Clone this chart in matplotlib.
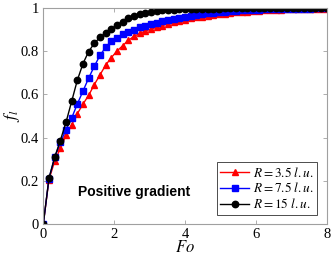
import matplotlib
matplotlib.use("Agg")
import matplotlib.pyplot as plt

plt.rcParams['mathtext.fontset'] = 'stix'
plt.rcParams['font.family'] = ['Liberation Serif', 'DejaVu Serif']

# Fourier number (x axis)
fo = [0.00, 0.16, 0.32, 0.48, 0.64, 0.80, 0.96, 1.12, 1.28, 1.44,
      1.60, 1.76, 1.92, 2.08, 2.24, 2.40, 2.56, 2.72, 2.88, 3.04,
      3.20, 3.36, 3.52, 3.68, 3.84, 4.00, 4.16, 4.32, 4.48, 4.64,
      4.80, 4.96, 5.12, 5.28, 5.44, 5.60, 5.76, 5.92, 6.08, 6.24,
      6.40, 6.56, 6.72, 6.88, 7.04, 7.20, 7.36, 7.52, 7.68, 7.84, 8.00]

# liquid fraction for each radius
fl_r35 = [0.000, 0.205, 0.290, 0.350, 0.410, 0.460, 0.510, 0.555, 0.595, 0.645,
          0.690, 0.735, 0.770, 0.800, 0.825, 0.850, 0.868, 0.882, 0.893, 0.902,
          0.910, 0.918, 0.926, 0.933, 0.940, 0.946, 0.951, 0.956, 0.960, 0.964,
          0.968, 0.971, 0.974, 0.977, 0.979, 0.981, 0.983, 0.985, 0.987, 0.988,
          0.990, 0.991, 0.992, 0.993, 0.994, 0.995, 0.995, 0.996, 0.996, 0.997, 0.997]

fl_r75 = [0.000, 0.210, 0.308, 0.378, 0.435, 0.490, 0.555, 0.615, 0.675, 0.730,
          0.780, 0.818, 0.845, 0.863, 0.878, 0.890, 0.900, 0.910, 0.918, 0.925,
          0.932, 0.938, 0.944, 0.950, 0.955, 0.960, 0.964, 0.968, 0.972, 0.975,
          0.978, 0.981, 0.983, 0.985, 0.987, 0.989, 0.990, 0.991, 0.992, 0.993,
          0.994, 0.995, 0.995, 0.996, 0.996, 0.997, 0.997, 0.997, 0.998, 0.998, 0.998]

fl_r15 = [0.000, 0.212, 0.308, 0.386, 0.470, 0.567, 0.665, 0.742, 0.798, 0.836,
          0.864, 0.884, 0.904, 0.920, 0.936, 0.952, 0.963, 0.971, 0.977, 0.982,
          0.985, 0.988, 0.990, 0.992, 0.993, 0.994, 0.995, 0.996, 0.996, 0.997,
          0.997, 0.997, 0.998, 0.998, 0.998, 0.998, 0.998, 0.999, 0.999, 0.999,
          0.999, 0.999, 0.999, 0.999, 0.999, 0.999, 0.999, 0.999, 0.999, 0.999, 0.999]

fig = plt.figure(figsize=(3.32, 2.65), dpi=100)
ax = fig.add_axes([0.1304, 0.1547, 0.8536, 0.8155])

ax.plot(fo, fl_r35, color='red', marker='^', markersize=5, lw=1.0,
        label=r'$R = 3.5\ l.u.$')
ax.plot(fo, fl_r75, color='blue', marker='s', markersize=4.2, lw=1.0,
        label=r'$R = 7.5\ l.u.$')
ax.plot(fo, fl_r15, color='black', marker='o', markersize=4.6, lw=1.0,
        label=r'$R = 15\ l.u.$')

ax.set_xlim(0, 8)
ax.set_ylim(0, 1)
ax.set_xticks([0, 2, 4, 6, 8])
ax.set_yticks([0, 0.2, 0.4, 0.6, 0.8, 1])
ax.set_yticklabels(['0', '0.2', '0.4', '0.6', '0.8', '1'])

for s in ax.spines.values():
    s.set_color('#a0a0a0')
    s.set_linewidth(0.8)
ax.tick_params(direction='in', top=True, right=True, length=3, width=0.6,
               color='#a0a0a0', labelsize=10.5, pad=3)

ax.set_xlabel(r'$Fo$', fontsize=12, labelpad=-1)
ax.set_ylabel(r'$f_l$', fontsize=12)
ax.yaxis.set_label_coords(-0.075, 0.5)

ax.text(0.98, 0.148, 'Positive gradient', family='Liberation Sans',
        fontweight='bold', fontsize=10, va='center')

leg = ax.legend(loc='lower right', fontsize=9.5, handlelength=2.2,
                fancybox=False, framealpha=1, borderpad=0.25,
                labelspacing=0.15, handletextpad=0.3, borderaxespad=0.7)
leg.get_frame().set_edgecolor('#303030')
leg.get_frame().set_linewidth(0.6)

fig.savefig('out.png', dpi=100)
